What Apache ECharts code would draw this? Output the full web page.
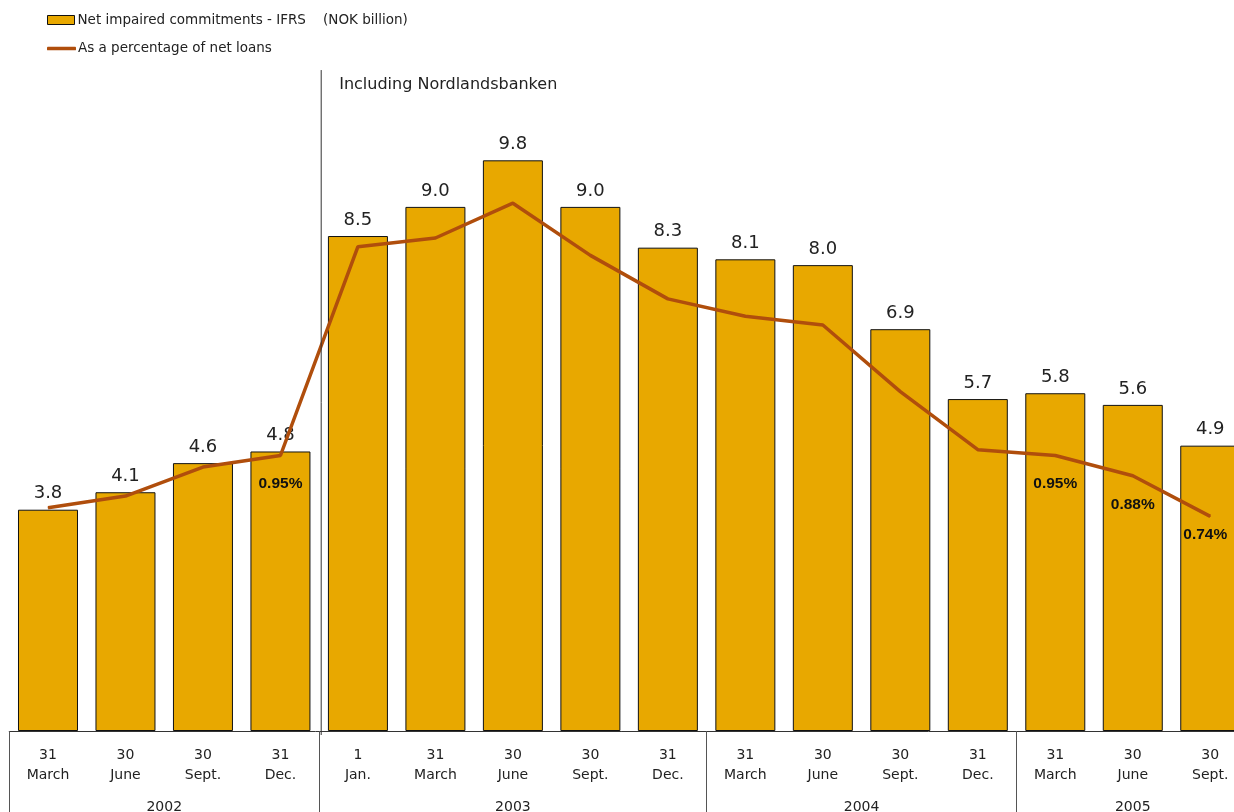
<!DOCTYPE html>
<html>
<head>
<meta charset="utf-8">
<script src="https://cdn.jsdelivr.net/npm/echarts@6/dist/echarts.min.js"></script>
<style>
html,body{margin:0;padding:0;background:#fff;}
#chart{width:1234px;height:812px;}
</style>
</head>
<body>
<div id="chart"></div>
<script>
// ---- data ----
const categories = ['31\nMarch','30\nJune','30\nSept.','31\nDec.','1\nJan.','31\nMarch','30\nJune','30\nSept.','31\nDec.','31\nMarch','30\nJune','30\nSept.','31\nDec.','31\nMarch','30\nJune','30\nSept.'];
const impaired = [3.8,4.1,4.6,4.8,8.5,9.0,9.8,9.0,8.3,8.1,8.0,6.9,5.7,5.8,5.6,4.9];
const pctOfLoans = [0.77,0.81,0.91,0.95,1.67,1.70,1.82,1.64,1.49,1.43,1.40,1.17,0.97,0.95,0.88,0.74];
const labelledPct = [3,13,14,15];
const years = ['2002','2003','2004','2005'];
const yearStart = [0,4,9,13];
const yearEnd = [4,9,13,16];
const annotationText = 'Including Nordlandsbanken';

const barName = 'Net impaired commitments - IFRS    (NOK billion)';
const lineName = 'As a percentage of net loans';
const FONT = 'DejaVu Sans';
const LINE_COLOR = '#B04E0C';

const yearCenters = years.map((y,i)=>(yearStart[i]+yearEnd[i])/2);

const lineData = pctOfLoans.map((v,i)=>{
  if (labelledPct.indexOf(i) >= 0) {
    return {value:v, label:{show:true, distance: i===15 ? 10 : 20, offset: i===15 ? [-5,0] : [0,0]}};
  }
  return v;
});

const chart = echarts.init(document.getElementById('chart'), null, {renderer:'canvas'});
const option = {
  animation:false,
  backgroundColor:'#fff',
  grid:{left:9.25, right:-15, top:6, bottom:81, containLabel:false, outerBoundsMode:'none'},
  legend:[
    {data:[{name:barName, icon:'rect'}], left:47, top:13, itemWidth:27, itemHeight:9, padding:0, itemGap:0,
     itemStyle:{borderWidth:1, borderColor:'#111'},
     textStyle:{fontFamily:FONT, fontSize:13.5, color:'#222', padding:[0,0,0,-2]}},
    {data:[{name:lineName, icon:'roundRect'}], left:47, top:41.5, itemWidth:29, itemHeight:3.5, padding:0, itemGap:0,
     itemStyle:{borderWidth:0},
     textStyle:{fontFamily:FONT, fontSize:13.5, color:'#222', padding:[0,0,0,-3]}}
  ],
  xAxis:[
    {type:'category', data:categories, position:'bottom', boundaryGap:true,
     axisLine:{show:true, lineStyle:{color:'#333', width:1}},
     axisTick:{show:true, length:81, lineStyle:{color:'#555', width:1},
       interval:function(index){ return yearStart.indexOf(index) >= 0; }},
     axisLabel:{interval:0, fontFamily:FONT, fontSize:14, color:'#222', lineHeight:20, margin:14}},
    {type:'value', min:0, max:16, position:'bottom', offset:0,
     axisLine:{show:false}, axisTick:{show:false}, splitLine:{show:false},
     axisLabel:{show:true, customValues:yearCenters, fontFamily:FONT, fontSize:14, color:'#222', margin:69,
       formatter:function(v){ const i = yearCenters.indexOf(v); return i>=0 ? years[i] : ''; }}}
  ],
  yAxis:[
    {type:'value', min:0, max:12.45, show:false, splitLine:{show:false}},
    {type:'value', min:0, max:2.5, show:false, splitLine:{show:false}}
  ],
  series:[
    {name:barName, type:'bar', data:impaired, xAxisIndex:0, yAxisIndex:0, barWidth:60,
     itemStyle:{color:'#E8A800', borderColor:'#111', borderWidth:1},
     label:{show:true, position:'top', distance:7, fontFamily:FONT, fontSize:18, color:'#222',
       formatter:function(p){ return p.value.toFixed(1); }}},
    {name:lineName, type:'line', data:lineData, xAxisIndex:0, yAxisIndex:1,
     symbol:'circle', symbolSize:1, showSymbol:true,
     lineStyle:{color:LINE_COLOR, width:3.5}, itemStyle:{color:LINE_COLOR},
     label:{show:false, position:'bottom', fontFamily:'Liberation Sans', fontWeight:'bold', fontSize:15.5, color:'#111',
       formatter:function(p){ return p.value.toFixed(2) + '%'; }}, z:5}
  ]
};
chart.setOption(option);

// annotation line and text placed through the axes
const xLeft = chart.convertToPixel({xAxisIndex:0}, 3);
const xRight = chart.convertToPixel({xAxisIndex:0}, 4);
const xDiv = (xLeft + xRight)/2 + 2;
const yTop = chart.convertToPixel({yAxisIndex:0}, 11.35);
const yBase = chart.convertToPixel({yAxisIndex:0}, 0);
chart.setOption({
  graphic:[
    {type:'line', shape:{x1:xDiv, y1:yTop, x2:xDiv, y2:yBase+4}, style:{stroke:'#333', lineWidth:1}, z:10},
    {type:'text', x:xDiv+18, y:yTop+15, style:{text:annotationText, font:'16px "DejaVu Sans"', fill:'#222', verticalAlign:'middle'}, z:10}
  ]
});
</script>
</body>
</html>
